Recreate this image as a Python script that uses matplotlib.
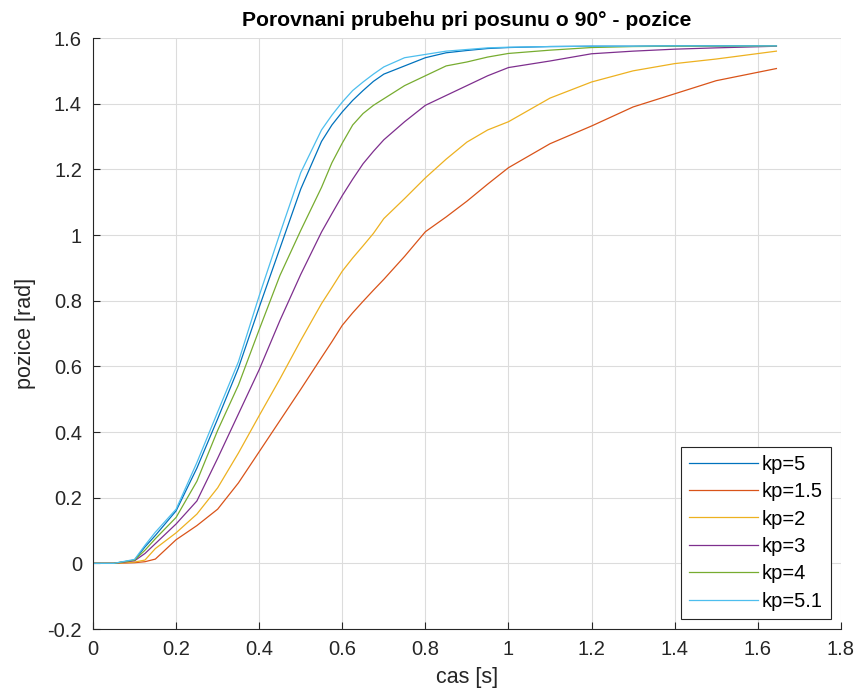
import matplotlib
matplotlib.use("Agg")
import matplotlib.pyplot as plt

plt.rcParams['font.family'] = ['Liberation Sans', 'DejaVu Sans']

t = [0.0, 0.05, 0.1, 0.125, 0.15, 0.2, 0.25, 0.3, 0.35, 0.4, 0.45, 0.5, 0.55, 0.575, 0.6,
     0.625, 0.65, 0.675, 0.7, 0.75, 0.8, 0.85, 0.9, 0.95, 1.0, 1.1, 1.2, 1.3, 1.4, 1.5, 1.645]

kp5 = [0.0, 0.0, 0.01, 0.05, 0.085, 0.16, 0.29, 0.44, 0.595, 0.78, 0.96, 1.14, 1.285, 1.335, 1.375,
       1.41, 1.44, 1.468, 1.49, 1.515, 1.54, 1.555, 1.562, 1.568, 1.571, 1.574, 1.575, 1.575, 1.576, 1.576, 1.576]
kp15 = [0.0, 0.0, 0.002, 0.005, 0.013, 0.072, 0.115, 0.165, 0.245, 0.34, 0.435, 0.53, 0.627, 0.675, 0.725,
        0.763, 0.798, 0.832, 0.865, 0.935, 1.01, 1.055, 1.103, 1.155, 1.205, 1.278, 1.332, 1.39, 1.43, 1.47, 1.507]
kp2 = [0.0, 0.0, 0.004, 0.01, 0.045, 0.093, 0.15, 0.23, 0.336, 0.45, 0.562, 0.679, 0.791, 0.84, 0.89,
       0.93, 0.967, 1.005, 1.05, 1.111, 1.174, 1.231, 1.283, 1.32, 1.345, 1.417, 1.466, 1.50, 1.522, 1.536, 1.56]
kp3 = [0.0, 0.0, 0.008, 0.03, 0.06, 0.12, 0.19, 0.32, 0.455, 0.59, 0.74, 0.88, 1.009, 1.065, 1.12,
       1.17, 1.217, 1.255, 1.29, 1.345, 1.395, 1.425, 1.455, 1.485, 1.51, 1.53, 1.552, 1.56, 1.566, 1.57, 1.575]
kp4 = [0.0, 0.0, 0.01, 0.04, 0.075, 0.14, 0.25, 0.405, 0.543, 0.712, 0.877, 1.014, 1.145, 1.22, 1.28,
       1.335, 1.37, 1.395, 1.415, 1.455, 1.485, 1.515, 1.527, 1.542, 1.553, 1.563, 1.571, 1.574, 1.575, 1.575, 1.576]
kp51 = [0.0, 0.0, 0.012, 0.055, 0.095, 0.165, 0.307, 0.461, 0.614, 0.815, 1.005, 1.19, 1.32, 1.365, 1.405,
        1.44, 1.466, 1.49, 1.512, 1.54, 1.55, 1.56, 1.565, 1.57, 1.572, 1.574, 1.575, 1.575, 1.576, 1.576, 1.576]

labels = ['kp=5', 'kp=1.5', 'kp=2', 'kp=3', 'kp=4', 'kp=5.1']
colors = ['#0072BD', '#D95319', '#EDB120', '#7E2F8E', '#77AC30', '#4DBEEE']
series = [kp5, kp15, kp2, kp3, kp4, kp51]

fig = plt.figure(figsize=(8.59, 7.0), dpi=100)
ax = fig.add_axes([0.1083, 0.1014, 0.8705, 0.8443])

for y, c, lab in zip(series, colors, labels):
    ax.plot(t, y, color=c, lw=0.9, label=lab)

ax.set_xlim(0, 1.8)
ax.set_ylim(-0.2, 1.6)
ax.set_xticks([0, 0.2, 0.4, 0.6, 0.8, 1.0, 1.2, 1.4, 1.6, 1.8])
ax.set_xticklabels(['0', '0.2', '0.4', '0.6', '0.8', '1', '1.2', '1.4', '1.6', '1.8'])
ax.set_yticks([-0.2, 0, 0.2, 0.4, 0.6, 0.8, 1.0, 1.2, 1.4, 1.6])
ax.set_yticklabels(['-0.2', '0', '0.2', '0.4', '0.6', '0.8', '1', '1.2', '1.4', '1.6'])

ax.grid(True, color='#dcdcdc', lw=0.8)
ax.set_axisbelow(True)
for s in ['top', 'right']:
    ax.spines[s].set_visible(False)
for s in ['left', 'bottom']:
    ax.spines[s].set_color('#262626')
    ax.spines[s].set_linewidth(0.8)
ax.tick_params(direction='in', length=5, width=0.8, colors='#262626', labelsize=14.5, pad=8)

ax.set_xlabel('cas [s]', fontsize=15.5, color='#262626', labelpad=6)
ax.set_ylabel('pozice [rad]', fontsize=15.5, color='#262626', labelpad=8)
ax.set_title('Porovnani prubehu pri posunu o 90° - pozice', fontsize=15.2, fontweight='bold', pad=9)

leg = ax.legend(loc='lower right', fontsize=14.5, frameon=True, fancybox=False,
                edgecolor='#262626', framealpha=1, handlelength=3.4, borderpad=0.4,
                labelspacing=0.42, handletextpad=0.2, borderaxespad=0.5)
leg.get_frame().set_linewidth(0.8)

fig.savefig('out.png', dpi=100)
